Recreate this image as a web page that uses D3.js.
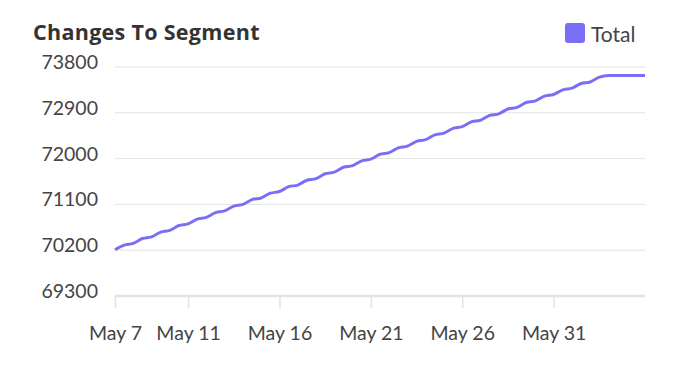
<!DOCTYPE html>
<html>
<head>
<meta charset="utf-8">
<script src="https://cdn.jsdelivr.net/npm/d3@7"></script>
<style>
  body { margin: 0; background: #fff; }
  svg { font-family: Lato, "Noto Sans", sans-serif; }
</style>
</head>
<body>
<svg id="chart" width="688" height="378"></svg>
<script>
// half-day samples, May 7 00:00 -> June 5 00:00
const startDate = new Date(2023, 4, 7);
const values = [
    70210, 70300, 70335, 70430, 70462, 70555, 70590, 70685, 70718, 70812,
    70845, 70940, 70972, 71066, 71100, 71194, 71226, 71320, 71353, 71448,
    71480, 71575, 71607, 71702, 71735, 71830, 71862, 71957, 71990, 72085,
    72118, 72212, 72245, 72340, 72372, 72467, 72500, 72594, 72627, 72722,
    72754, 72848, 72880, 72975, 73008, 73102, 73134, 73228, 73260, 73352,
    73384, 73475, 73506, 73600, 73635, 73635, 73635, 73635, 73635
];
const yTicks = [69300, 70200, 71100, 72000, 72900, 73800];
const xTickDays = [7, 11, 16, 21, 26, 31];
const seriesName = 'Total';

const color = '#7b6ef6';
const data = values.map((v, i) => ({
    date: new Date(startDate.getTime() + i * 12 * 3600 * 1000),
    value: v
}));

const margin = { left: 115, right: 43, top: 67, bottom: 82 };
const width = 688, height = 378;

const svg = d3.select('#chart');

const x = d3.scaleTime()
    .domain(d3.extent(data, d => d.date))
    .range([margin.left, width - margin.right]);

const y = d3.scaleLinear()
    .domain([69300, 73800])
    .range([height - margin.bottom, margin.top]);

// grid
svg.append('g')
    .selectAll('line')
    .data(yTicks.slice(1))
    .join('line')
    .attr('x1', margin.left)
    .attr('x2', width - margin.right)
    .attr('y1', d => y(d))
    .attr('y2', d => y(d))
    .attr('stroke', '#e3e3e3')
    .attr('stroke-width', 1);

// y labels
svg.append('g')
    .selectAll('text')
    .data(yTicks)
    .join('text')
    .attr('x', 98)
    .attr('y', d => y(d) + 2)
    .attr('text-anchor', 'end')
    .attr('fill', '#444')
    .attr('font-size', 19.5)
    .text(d => d);

// x axis
const xTicks = xTickDays.map(d => new Date(2023, 4, d));
const xAxis = svg.append('g')
    .attr('transform', `translate(0,${height - margin.bottom})`)
    .call(d3.axisBottom(x)
        .tickValues(xTicks)
        .tickSize(12)
        .tickPadding(18)
        .tickFormat(d3.timeFormat('%b %-d')));
xAxis.select('.domain')
    .attr('stroke', '#e3e3e3')
    .attr('stroke-width', 2.5)
    .attr('d', `M${margin.left},0H${width - margin.right}`);
xAxis.selectAll('.tick line').attr('stroke', '#e3e3e3').attr('stroke-width', 1.5);
xAxis.selectAll('.tick text')
    .attr('fill', '#444')
    .attr('font-size', 19.5)
    .attr('font-family', 'Lato, "Noto Sans", sans-serif');

// line
const line = d3.line()
    .x(d => x(d.date))
    .y(d => y(d.value))
    .curve(d3.curveMonotoneX);

svg.append('path')
    .datum(data)
    .attr('fill', 'none')
    .attr('stroke', color)
    .attr('stroke-width', 3)
    .attr('d', line);

// title
svg.append('text')
    .attr('x', 33)
    .attr('y', 40)
    .attr('fill', '#333')
    .attr('font-size', 21.5)
    .attr('letter-spacing', 0.3)
    .attr('font-weight', 'bold')
    .attr('font-family', '"Open Sans", Lato, sans-serif')
    .text('Changes To Segment');

// legend
svg.append('rect')
    .attr('x', 565)
    .attr('y', 23)
    .attr('width', 20)
    .attr('height', 20)
    .attr('rx', 3)
    .attr('fill', color);
svg.append('text')
    .attr('x', 591)
    .attr('y', 42)
    .attr('fill', '#444')
    .attr('font-size', 21)
    .text(seriesName);
</script>
</body>
</html>
